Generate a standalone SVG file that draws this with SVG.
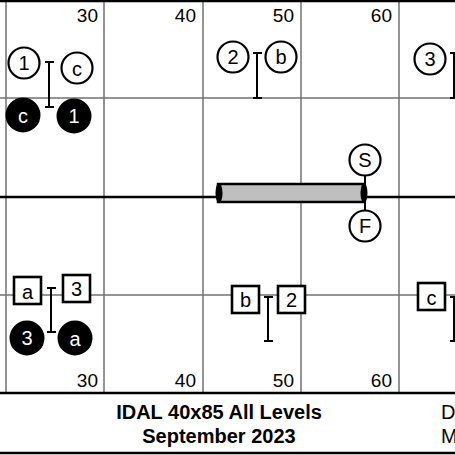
<svg xmlns="http://www.w3.org/2000/svg" width="455" height="455" viewBox="0 0 455 455">
<defs>
<style>
.grid{stroke:#707070;stroke-width:1.5;fill:none}
.border{stroke:#000;stroke-width:2.5;fill:none}
.num{font-family:"Liberation Sans",Arial,sans-serif;font-size:19px;fill:#000;text-anchor:end}
.c{fill:#fff;stroke:#000;stroke-width:2.2}
.cf{fill:#000;stroke:#000;stroke-width:2}
.b{fill:#fff;stroke:#000;stroke-width:2.6}
.t{font-family:"Liberation Sans",Arial,sans-serif;font-size:20px;fill:#000;text-anchor:middle;dominant-baseline:central}
.tw{font-family:"Liberation Sans",Arial,sans-serif;font-size:20px;fill:#fff;text-anchor:middle;dominant-baseline:central}
.ibar{stroke:#000;stroke-width:2;fill:none}
.foot{font-family:"Liberation Sans",Arial,sans-serif;font-size:20px;font-weight:bold;fill:#000;text-anchor:middle}
.footr{font-family:"Liberation Sans",Arial,sans-serif;font-size:20px;fill:#000}
</style>
</defs>
<rect width="455" height="455" fill="#fff"/>
<g id="grid">
<line class="grid" x1="6" y1="0" x2="6" y2="393"/>
<line class="grid" x1="104" y1="0" x2="104" y2="393"/>
<line class="grid" x1="203" y1="0" x2="203" y2="393"/>
<line class="grid" x1="301" y1="0" x2="301" y2="393"/>
<line class="grid" x1="399" y1="0" x2="399" y2="393"/>
<line class="grid" x1="0" y1="98" x2="455" y2="98"/>
<line class="grid" x1="0" y1="295" x2="455" y2="295"/>
<line x1="0" y1="197" x2="455" y2="197" stroke="#000" stroke-width="2.5"/>
<line class="border" x1="0" y1="1" x2="455" y2="1"/>
<line class="border" x1="0" y1="393" x2="455" y2="393"/>
<line class="border" x1="0" y1="453" x2="455" y2="453"/>
</g>
<g id="labels">
<text class="num" x="98" y="22">30</text>
<text class="num" x="196" y="22">40</text>
<text class="num" x="294" y="22">50</text>
<text class="num" x="392" y="22">60</text>
<text class="num" x="98" y="387">30</text>
<text class="num" x="196" y="387">40</text>
<text class="num" x="294" y="387">50</text>
<text class="num" x="392" y="387">60</text>
</g>
<g id="connectors">
<path class="ibar" d="M49 62V107M45 62H54M45 107H54"/>
<path class="ibar" d="M257 53V98M253 53H262M253 98H262"/>
<path class="ibar" d="M454 53V98M450 53H459M450 98H459"/>
<path class="ibar" d="M51 288V332M47 288H56M47 332H56"/>
<path class="ibar" d="M268 297V341M264 297H273M264 341H273"/>
<path class="ibar" d="M454 297V341M450 297H459M450 341H459"/>
<line x1="365" y1="176" x2="365" y2="210" stroke="#000" stroke-width="2"/>
</g>
<g id="pole">
<rect x="218" y="184" width="146" height="18" fill="#bfbfbf" stroke="#000" stroke-width="2.5"/>
<ellipse cx="219" cy="193" rx="3.5" ry="10" fill="#000"/>
<ellipse cx="364" cy="193" rx="3.5" ry="10" fill="#000"/>
</g>
<g id="node-1top"><circle class="c" cx="24" cy="63" r="15.5"/><text class="t" x="24" y="63">1</text></g>
<g id="node-ctop"><circle class="c" cx="77" cy="68" r="15.5"/><text class="t" x="77" y="69">c</text></g>
<g id="node-cfill"><circle class="cf" cx="23" cy="115" r="16.5"/><text class="tw" x="23" y="116">c</text></g>
<g id="node-1fill"><circle class="cf" cx="74" cy="116" r="16.5"/><text class="tw" x="74" y="116">1</text></g>
<g id="node-2top"><circle class="c" cx="233" cy="57" r="15.5"/><text class="t" x="233" y="57">2</text></g>
<g id="node-btop"><circle class="c" cx="281" cy="57" r="15.5"/><text class="t" x="281" y="57">b</text></g>
<g id="node-3top"><circle class="c" cx="430" cy="59" r="15.5"/><text class="t" x="430" y="59">3</text></g>
<g id="node-S"><circle class="c" cx="365" cy="160" r="15.5"/><text class="t" x="365" y="160">S</text></g>
<g id="node-F"><circle class="c" cx="365" cy="226" r="15.5"/><text class="t" x="365" y="226">F</text></g>
<g id="node-abox"><rect class="b" x="14" y="277" width="27" height="27"/><text class="t" x="27.5" y="291.5">a</text></g>
<g id="node-3box"><rect class="b" x="63" y="275" width="27" height="27"/><text class="t" x="76.5" y="288.5">3</text></g>
<g id="node-3fill"><circle class="cf" cx="27" cy="338" r="16.5"/><text class="tw" x="27" y="338">3</text></g>
<g id="node-afill"><circle class="cf" cx="75" cy="338" r="16.5"/><text class="tw" x="75" y="339">a</text></g>
<g id="node-bbox"><rect class="b" x="232" y="286" width="27" height="27"/><text class="t" x="245.5" y="299.5">b</text></g>
<g id="node-2box"><rect class="b" x="278" y="286" width="27" height="27"/><text class="t" x="291.5" y="299.5">2</text></g>
<g id="node-cbox"><rect class="b" x="418" y="283" width="27" height="27"/><text class="t" x="431.5" y="297.5">c</text></g>
<g id="footer">
<text class="foot" x="219" y="419">IDAL 40x85 All Levels</text>
<text class="foot" x="219" y="443">September 2023</text>
<text class="footr" x="441" y="419">D</text>
<text class="footr" x="441" y="443">M</text>
</g>
</svg>
